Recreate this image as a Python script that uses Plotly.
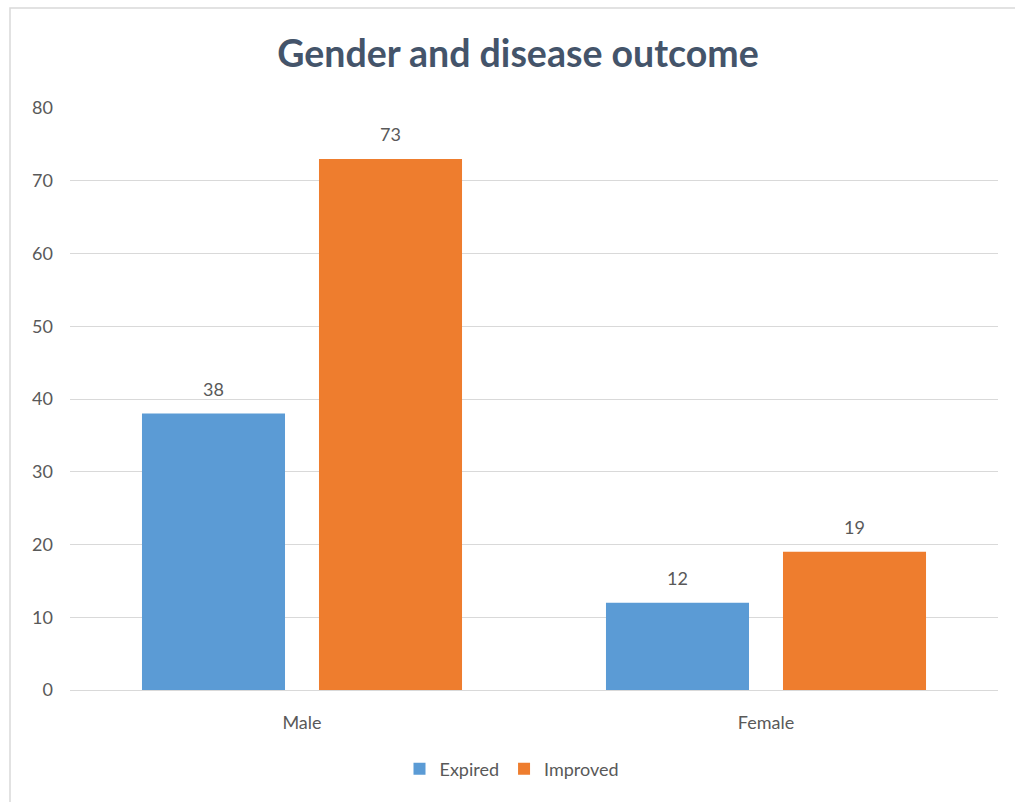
import plotly.graph_objects as go

# Patient outcome counts by gender
genders = ["Male", "Female"]
expired = [38, 12]
improved = [73, 19]
y_ticks = [0, 10, 20, 30, 40, 50, 60, 70, 80]

FONT = "Lato"
TEXT_GREY = "#595959"
TITLE_COLOR = "#44546A"

series = [("Expired", expired, "#5B9BD5"), ("Improved", improved, "#EE7D2E")]

W, H = 1015, 802
L, R, T, B = 70, 17, 108, 112
pw, ph = W - L - R, H - T - B
BARGAP, BARGROUPGAP = 0.237, 0.192

fig = go.Figure()
for name, vals, color in series:
    fig.add_trace(go.Bar(
        name=name, x=genders, y=vals,
        marker=dict(color=color, line=dict(width=0)),
    ))

# value labels above each bar, shifted horizontally to the bar's slot in its group
slot_px = (pw / len(genders)) * (1 - BARGAP) / len(series)
annotations = []
for j, (name, vals, color) in enumerate(series):
    offset = (j - (len(series) - 1) / 2) * slot_px
    for g, v in zip(genders, vals):
        annotations.append(dict(
            x=g, y=v, xref="x", yref="y", text=str(v), showarrow=False,
            xshift=offset, yshift=25, yanchor="middle",
            font=dict(family=FONT, size=18, color=TEXT_GREY),
        ))

fig.update_layout(
    width=W, height=H,
    margin=dict(l=L, r=R, t=T, b=B),
    paper_bgcolor="white", plot_bgcolor="white",
    font=dict(family=FONT, size=18, color=TEXT_GREY),
    barmode="group", bargap=BARGAP, bargroupgap=BARGROUPGAP,
    title=dict(
        text="<b>Gender and disease outcome</b>",
        font=dict(family=FONT, size=37.5, color=TITLE_COLOR),
        xref="container", x=518 / W, xanchor="center",
        yref="container", y=1 - 54 / H, yanchor="middle",
    ),
    xaxis=dict(
        showgrid=False, showline=True, linecolor="#D9D9D9", linewidth=1,
        ticks="", ticklabelstandoff=16,
        tickfont=dict(family=FONT, size=18, color=TEXT_GREY),
    ),
    yaxis=dict(
        range=[0, 80], tickvals=y_ticks, showgrid=True,
        gridcolor="#D9D9D9", gridwidth=1, zeroline=False, showline=False,
        ticks="", ticklabelstandoff=16,
        tickfont=dict(family=FONT, size=18, color=TEXT_GREY),
    ),
    legend=dict(
        orientation="h", x=(512 - L) / pw, xanchor="center",
        y=-(769 - (H - B)) / ph, yanchor="middle",
        font=dict(family=FONT, size=18, color=TEXT_GREY),
        itemwidth=30, traceorder="normal",
    ),
    annotations=annotations,
    shapes=[dict(
        type="rect", xref="paper", yref="paper",
        x0=(10 - L) / pw, x1=(W + 5 - L) / pw,
        y0=-(H + 5 - (T + ph)) / ph, y1=1 + (T - 8) / ph,
        line=dict(color="#D9D9D9", width=1.5), fillcolor="rgba(0,0,0,0)",
        layer="below",
    )],
)

fig.write_html("out.html")
